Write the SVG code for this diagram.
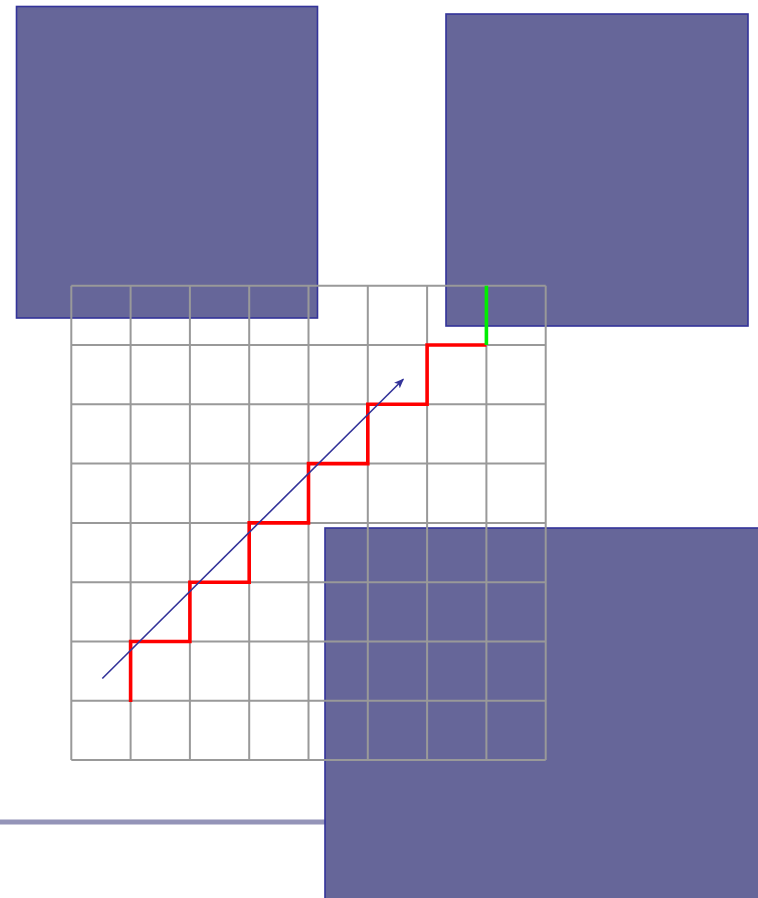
<svg xmlns="http://www.w3.org/2000/svg" width="758" height="898" viewBox="0 0 758 898">
<style>
.box{fill:#666699;stroke:#333399;stroke-width:1.6}
.grid line{stroke:#999999;stroke-width:2}
.step{fill:none;stroke:#ff0000;stroke-width:3.6}
.green{stroke:#00ee00;stroke-width:3.6}
.arrow{stroke:#333399;stroke-width:1.6;fill:none}
</style>
<defs>
<marker id="ah" markerWidth="10" markerHeight="8" refX="9" refY="4" orient="auto" markerUnits="userSpaceOnUse">
<path d="M0,0 L10,4 L0,8 L2.5,4 Z" fill="#333399"/>
</marker>
</defs>
<rect x="0" y="819.5" width="330" height="5" fill="#9494b8"/>
<g id="box-top-left"><rect class="box" x="16.5" y="6.5" width="301" height="311.5"/></g>
<g id="box-top-right"><rect class="box" x="446" y="14" width="302" height="312"/></g>
<g id="box-bottom-right"><rect class="box" x="325" y="528" width="445" height="380"/></g>
<g id="grid" class="grid">
<line x1="71.3" y1="285.7" x2="71.3" y2="760.1"/>
<line x1="130.6" y1="285.7" x2="130.6" y2="760.1"/>
<line x1="189.9" y1="285.7" x2="189.9" y2="760.1"/>
<line x1="249.2" y1="285.7" x2="249.2" y2="760.1"/>
<line x1="308.5" y1="285.7" x2="308.5" y2="760.1"/>
<line x1="367.8" y1="285.7" x2="367.8" y2="760.1"/>
<line x1="427.1" y1="285.7" x2="427.1" y2="760.1"/>
<line x1="486.4" y1="285.7" x2="486.4" y2="760.1"/>
<line x1="545.7" y1="285.7" x2="545.7" y2="760.1"/>
<line x1="71.3" y1="285.7" x2="545.7" y2="285.7"/>
<line x1="71.3" y1="345" x2="545.7" y2="345"/>
<line x1="71.3" y1="404.3" x2="545.7" y2="404.3"/>
<line x1="71.3" y1="463.6" x2="545.7" y2="463.6"/>
<line x1="71.3" y1="522.9" x2="545.7" y2="522.9"/>
<line x1="71.3" y1="582.2" x2="545.7" y2="582.2"/>
<line x1="71.3" y1="641.5" x2="545.7" y2="641.5"/>
<line x1="71.3" y1="700.8" x2="545.7" y2="700.8"/>
<line x1="71.3" y1="760.1" x2="545.7" y2="760.1"/>
</g>
<g id="connectors">
<polyline class="step" points="130.6,702 130.6,641.5 189.9,641.5 189.9,582.2 249.2,582.2 249.2,522.9 308.5,522.9 308.5,463.6 367.8,463.6 367.8,404.3 427.1,404.3 427.1,345 486.4,345"/>
<line class="green" x1="486.4" y1="345" x2="486.4" y2="285.7"/>
<line class="arrow" x1="102.3" y1="678.5" x2="403.3" y2="379.3" marker-end="url(#ah)"/>
</g>
</svg>
